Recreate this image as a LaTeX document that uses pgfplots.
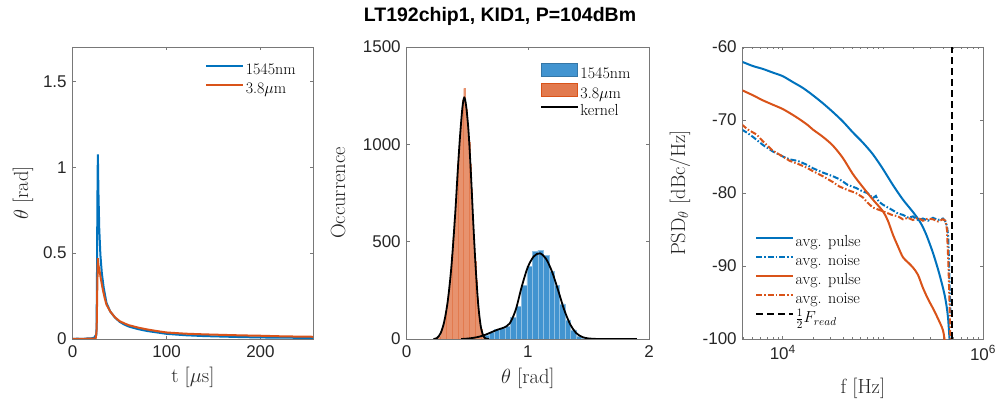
\documentclass[border=0pt]{standalone}
\usepackage{fix-cm}
\usepackage{fontspec}
\usepackage{pgfplots}
\pgfplotsset{compat=1.18}
\newfontfamily\arial{Liberation Sans}
\definecolor{mblue}{rgb}{0,0.447,0.741}
\definecolor{morange}{rgb}{0.85,0.325,0.098}
\definecolor{hblue}{RGB}{66,148,208}
\definecolor{horange}{RGB}{226,122,78}
\definecolor{axgray}{RGB}{120,120,120}
\definecolor{tkgray}{RGB}{38,38,38}
\pgfplotsset{
  mystyle/.style={
    scale only axis, width=240.3pt, height=292pt, anchor=south west,
    axis line style={axgray, line width=0.6pt},
    tick align=inside, tick pos=both, major tick length=3pt, minor tick length=1.8pt,
    every tick/.style={axgray, line width=0.6pt},
    tick label style={font=\arial\fontsize{17}{17}\selectfont, text=tkgray},
    xticklabel style={yshift=-3pt},
    yticklabel style={anchor=east, xshift=-2.5pt},
    /pgf/number format/assume math mode=true,
    /pgf/number format/1000 sep={},
    label style={font=\fontsize{20.5}{24}\selectfont, text=tkgray},
    legend cell align=left,
    legend style={draw=none, fill=none, font=\fontsize{16}{18}\selectfont, anchor=north west,
      row sep=1.5pt, inner sep=0pt, nodes={inner sep=1.5pt, text height=11pt, text depth=3.5pt}},
  },
  linelegend/.style={legend image code/.code={\draw[##1] (0pt,5pt) -- (37pt,5pt);}},
}
\begin{document}
\begin{tikzpicture}
\useasboundingbox (0pt,0pt) rectangle (1000pt,401pt);
\node[font=\arial\bfseries\fontsize{19.5}{19.5}\selectfont, text=black] at (500pt,385pt) {LT192chip1, KID1, P=104dBm};

% ---------------- panel 1 ----------------
\begin{axis}[mystyle, at={(72.7pt,62pt)},
  xmin=0, xmax=256, ymin=0, ymax=1.7,
  xtick={0,100,200}, ytick={0,0.5,1,1.5}, yticklabels={0,0.5,1,1.5},
  xlabel={t [$\mu$s]}, ylabel={$\theta$ [rad]},
  xlabel style={at={(axis description cs:0.5,-0.130)}, anchor=center},
  ylabel style={at={(axis description cs:-0.207,0.5)}, anchor=center},
  linelegend,
  legend style={at={(axis description cs:0.551,0.949)}},
]
\addplot[mblue, line width=2pt] coordinates {
(0,0) (5,0.002) (10,0) (15,0.003) (20,0.004) (23,0.008) (24.3,0.02) (25.3,0.025) (25.8,0.3) (26.3,0.8) (26.8,1.075) (27.4,0.86) (28.3,0.64) (29.5,0.49) (31,0.385) (33,0.30) (36,0.21) (40,0.16) (45,0.125) (50,0.100) (55,0.084) (60,0.072) (70,0.057) (80,0.046) (90,0.038) (100,0.030) (120,0.022) (140,0.017) (160,0.014) (180,0.011) (200,0.009) (220,0.008) (240,0.007) (256,0.006)};
\addlegendentry{1545nm}
\addplot[morange, line width=2pt] coordinates {
(0,0) (10,0.001) (20,0.002) (24.5,0.003) (25.5,0.05) (26.2,0.3) (26.8,0.47) (27.4,0.43) (28.5,0.40) (30,0.35) (32,0.29) (34,0.24) (36,0.20) (40,0.16) (45,0.126) (50,0.104) (55,0.091) (60,0.080) (70,0.066) (80,0.055) (90,0.046) (100,0.038) (120,0.031) (140,0.027) (160,0.024) (180,0.021) (200,0.019) (220,0.016) (240,0.014) (256,0.013)};
\addlegendentry{3.8$\mu$m}
\end{axis}

% ---------------- panel 2 ----------------
\begin{axis}[mystyle, at={(406.7pt,62pt)}, width=242.3pt,
  xmin=0, xmax=2, ymin=0, ymax=1500,
  xtick={0,1,2}, ytick={0,500,1000,1500},
  xlabel={$\theta$ [rad]}, ylabel={Occurrence},
  xlabel style={at={(axis description cs:0.5,-0.134)}, anchor=center},
  ylabel style={at={(axis description cs:-0.2835,0.5)}, anchor=center},
  legend style={at={(axis description cs:0.550,0.947)}, row sep=-0.75pt},
]
\addplot[ybar, bar width=0.045, bar shift=0pt, fill=hblue, draw=white!40!hblue, line width=0.5pt,
  legend image code/.code={\draw[fill=hblue, draw=hblue!80!black, line width=0.5pt] (0pt,-1.5pt) rectangle (36pt,12pt);}]
coordinates {
(0.520,1) (0.565,3) (0.610,8) (0.655,20) (0.700,35) (0.745,48) (0.790,57) (0.835,66) (0.880,112) (0.925,167) (0.970,274) (1.015,374) (1.060,452) (1.105,457) (1.150,428) (1.195,348) (1.240,274) (1.285,181) (1.330,98) (1.375,47) (1.420,15) (1.465,6) (1.510,2) (1.555,1)};
\addlegendentry{1545nm}
\addplot[ybar, bar width=0.01, bar shift=0pt, fill=horange, draw=white!18!horange, line width=0.25pt,
  legend image code/.code={\draw[fill=horange, draw=morange, line width=0.5pt] (0pt,-1.5pt) rectangle (36pt,12pt);}]
coordinates {
(0.255,2) (0.265,5) (0.275,15) (0.285,28) (0.295,45) (0.305,70) (0.315,100) (0.325,135) (0.335,180) (0.345,230) (0.355,290) (0.365,350) (0.375,430) (0.385,520) (0.395,610) (0.405,700) (0.415,800) (0.425,905) (0.435,990) (0.445,1085) (0.455,1160) (0.465,1225) (0.475,1288) (0.485,1195) (0.495,1180) (0.505,1100) (0.515,1010) (0.525,900) (0.535,770) (0.545,640) (0.555,520) (0.565,400) (0.575,300) (0.585,210) (0.595,140) (0.605,85) (0.615,50) (0.625,25) (0.635,12) (0.645,5)};
\addlegendentry{3.8$\mu$m}
\addplot[morange, line width=0.6pt, forget plot] coordinates {(0,0) (0.26,0)};
\addplot[black, line width=1.8pt, smooth, linelegend] coordinates {
(0.22,0) (0.25,5) (0.28,30) (0.31,90) (0.34,200) (0.37,380) (0.40,640) (0.42,850) (0.44,1040) (0.46,1190) (0.475,1240) (0.49,1200) (0.51,1070) (0.53,850) (0.55,590) (0.57,360) (0.59,180) (0.61,70) (0.63,20) (0.65,3) (0.68,0)};
\addlegendentry{kernel}
\addplot[black, line width=1.8pt, smooth, forget plot] coordinates {
(0.45,0) (0.5,2) (0.55,6) (0.6,12) (0.65,22) (0.7,35) (0.75,48) (0.8,58) (0.85,80) (0.9,150) (0.95,270) (1.0,370) (1.05,425) (1.1,440) (1.15,412) (1.2,345) (1.25,250) (1.3,150) (1.35,75) (1.4,30) (1.45,10) (1.5,3) (1.55,1) (1.6,0) (1.9,0)};
\end{axis}

% ---------------- panel 3 ----------------
\begin{axis}[mystyle, at={(742.7pt,62pt)}, xmode=log,
  xmin=3981, xmax=1000000, ymin=-100, ymax=-60,
  xtick={10000,1000000}, xticklabels={10\textsuperscript{4},10\textsuperscript{6}},
  minor xtick={4000,5000,6000,7000,8000,9000,20000,30000,40000,50000,60000,70000,80000,90000,100000,200000,300000,400000,500000,600000,700000,800000,900000},
  ytick={-100,-90,-80,-70,-60}, yticklabels={-100,-90,-80,-70,-60},
  xlabel={f [Hz]}, ylabel={PSD$_\theta$ [dBc/Hz]},
  xlabel style={at={(axis description cs:0.5,-0.168)}, anchor=center},
  ylabel style={at={(axis description cs:-0.261,0.5)}, anchor=center},
  linelegend,
  legend style={at={(axis description cs:0.051,0.359)}},
]
\addplot[mblue, line width=2pt, smooth] coordinates {
(3890,-62.0) (5012,-62.6) (6310,-63.0) (7943,-63.5) (10000,-64.0) (12589,-64.8) (15849,-65.6) (19953,-66.6) (25119,-67.7) (31623,-68.9) (39811,-70.2) (50119,-71.7) (63096,-73.1) (79433,-74.7) (100000,-76.7) (125893,-78.9) (158489,-80.9) (199526,-82.6) (236048,-84.0) (269153,-85.6) (309030,-87.8) (338844,-89.5) (371535,-91.4) (416869,-94.2) (446684,-97.0) (467735,-101)};
\addlegendentry{avg. pulse}
\addplot[mblue, line width=2pt, dash pattern=on 6pt off 2pt on 1.5pt off 2pt] coordinates {
(3890,-71.3) (4467,-71.8) (5129,-72.4) (6310,-73.4) (7943,-74.3) (10000,-75.0) (11749,-75.4) (14125,-75.6) (17179,-76.1) (19953,-76.6) (25119,-77.2) (31623,-77.7) (36644,-78.1) (44668,-78.9) (53703,-79.3) (63096,-79.8) (69984,-80.0) (79433,-80.7) (85114,-80.4) (91201,-81.2) (100000,-81.6) (123027,-82.3) (141254,-82.8) (158489,-83.0) (180717,-83.4) (199526,-83.2) (223872,-83.7) (251189,-83.5) (281838,-83.8) (316228,-83.4) (354813,-83.7) (398107,-83.5) (416869,-83.8) (436516,-84.5) (449780,-86.0) (462381,-92.0) (473151,-96.5)};
\addlegendentry{avg. noise}
\addplot[morange, line width=2pt, smooth] coordinates {
(3890,-65.9) (5012,-66.6) (6310,-67.3) (7943,-67.9) (10000,-68.5) (12589,-69.3) (14723,-69.9) (17783,-70.7) (19953,-71.3) (25119,-72.3) (31623,-73.5) (39811,-75.2) (50119,-77.4) (63096,-79.2) (79433,-80.9) (100000,-82.5) (112202,-83.8) (125893,-85.7) (141254,-87.3) (158489,-88.8) (177828,-89.5) (199526,-90.2) (223872,-91.2) (251189,-93.0) (281838,-94.5) (316228,-95.8) (354813,-97.2) (398107,-98.8) (416869,-100.5)};
\addlegendentry{avg. pulse}
\addplot[morange, line width=2pt, dash pattern=on 6pt off 2pt on 1.5pt off 2pt] coordinates {
(3890,-70.6) (4467,-71.3) (5495,-72.0) (6310,-72.9) (7943,-74.2) (10000,-75.0) (11749,-75.6) (14125,-76.0) (17179,-76.5) (19953,-77.0) (25119,-77.7) (31623,-78.5) (36644,-79.1) (44668,-79.6) (53703,-80.0) (63096,-80.6) (69984,-81.3) (79433,-82.0) (100000,-82.5) (123027,-83.0) (141254,-83.2) (158489,-83.6) (177828,-83.4) (199526,-83.7) (223872,-83.4) (251189,-83.8) (281838,-83.5) (316228,-83.6) (354813,-83.9) (398107,-83.6) (421697,-83.8) (436516,-85.0) (451856,-90.0) (462381,-95.0) (473151,-100.5)};
\addlegendentry{avg. noise}
\addplot[black, line width=2pt, dash pattern=on 7pt off 4pt] coordinates {(490000,-100) (490000,-60)};
\addlegendentry{$\frac{1}{2}F_{read}$}
\end{axis}
\end{tikzpicture}
\end{document}
